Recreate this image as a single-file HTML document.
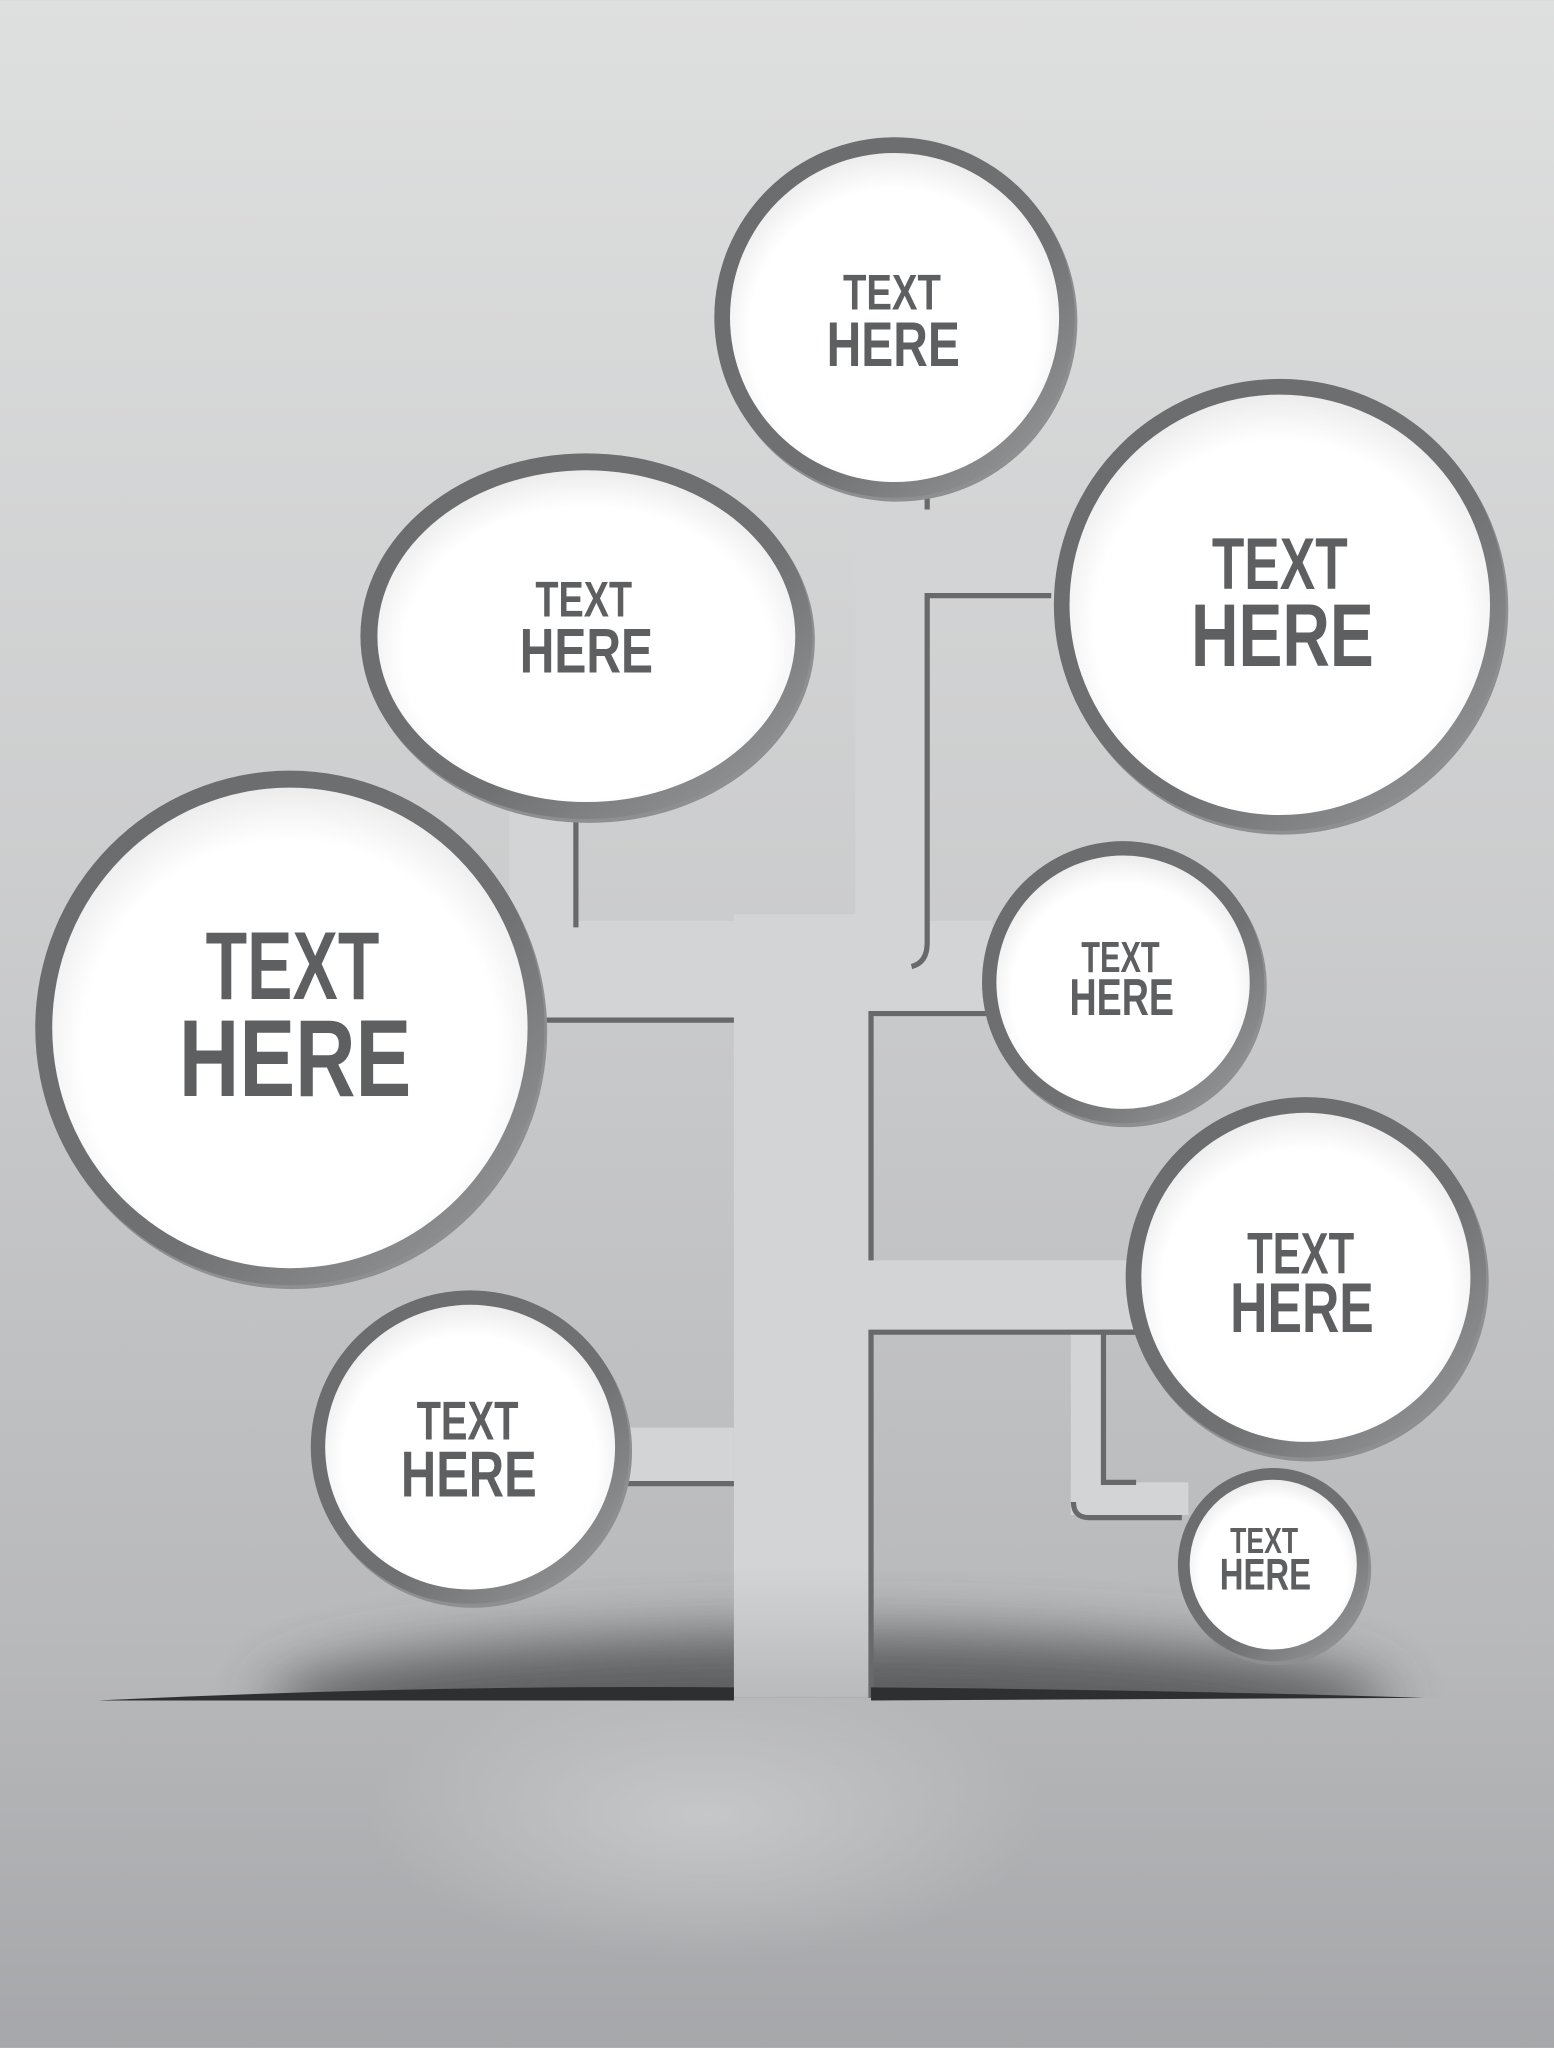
<!DOCTYPE html>
<html><head><meta charset="utf-8"><style>
html,body{margin:0;padding:0;width:1554px;height:2048px;overflow:hidden;background:#c8c9cb}
svg{display:block}
text{font-family:"Liberation Sans",sans-serif;font-weight:bold;fill:#5e5f61;text-anchor:middle}
</style></head><body>
<svg width="1554" height="2048" viewBox="0 0 1190 1568" xmlns="http://www.w3.org/2000/svg">
<defs>
<linearGradient id="bg" x1="0" y1="0" x2="0" y2="1">
<stop offset="0" stop-color="#dedfdf"/><stop offset="0.45" stop-color="#cbcccd"/><stop offset="0.8" stop-color="#b8b9bb"/><stop offset="1" stop-color="#a6a7aa"/>
</linearGradient>
<radialGradient id="glow" cx="0.5" cy="0.5" r="0.5">
<stop offset="0" stop-color="#c6c7c9"/><stop offset="1" stop-color="#c6c7c9" stop-opacity="0"/>
</radialGradient>
<linearGradient id="trunk" x1="0" y1="0" x2="0" y2="1">
<stop offset="0" stop-color="#d3d4d6"/><stop offset="1" stop-color="#b9babc"/>
</linearGradient>
<filter id="blur" x="-20%" y="-50%" width="140%" height="200%"><feGaussianBlur stdDeviation="22"/></filter>
<linearGradient id="ring" x1="0" y1="0" x2="1" y2="1">
<stop offset="0" stop-color="#6a6b6d"/><stop offset="0.6" stop-color="#707173"/><stop offset="1" stop-color="#9c9d9f"/>
</linearGradient>
<radialGradient id="face" cx="0.5" cy="0.55" r="0.55">
<stop offset="0.8" stop-color="#ffffff"/><stop offset="1" stop-color="#ececec"/>
</radialGradient>
<clipPath id="above"><rect x="0" y="0" width="1190" height="1300"/></clipPath>
</defs>
<rect width="1190" height="1568" fill="url(#bg)"/>
<ellipse cx="540" cy="1390" rx="260" ry="110" fill="url(#glow)"/>
<g clip-path="url(#above)">
<ellipse cx="635" cy="1305" rx="430" ry="55" fill="#4e4f51" opacity="0.85" filter="url(#blur)"/>
</g>
<g fill="#d3d4d6">
<rect x="562" y="700" width="105" height="500"/>
<rect x="655" y="375" width="55" height="365"/>
<rect x="710" y="400" width="100" height="55"/>
<rect x="390" y="615" width="50" height="100"/>
<rect x="390" y="705" width="370" height="35"/>
<rect x="410" y="735" width="152" height="45"/>
<rect x="667" y="735" width="95" height="40"/>
<rect x="667" y="965" width="205" height="55"/>
<rect x="820" y="1015" width="25" height="145"/>
<rect x="820" y="1135" width="90" height="25"/>
<rect x="475" y="1093" width="87" height="42"/>
</g>
<rect x="562" y="1199" width="105" height="101" fill="url(#trunk)"/>
<g stroke="#68696b" stroke-width="4" fill="none">
<path d="M441 625 V710"/>
<path d="M415 781 H562"/>
<path d="M480 1136 H562"/>
<path d="M710 380 V390"/>
<path d="M805 456 H710 V722 Q710 737 698 740"/>
<path d="M755 776 H667 V965"/>
<path d="M870 1020 H667 V1300"/>
<path d="M872 1020 H845 V1135 H870"/>
<path d="M822 1150 Q822 1162 834 1162 H905"/>
</g>
<path d="M75 1302 Q330 1290 562 1292 L562 1302 Z" fill="#2e2f30"/>
<path d="M667 1292 Q900 1294 1090 1300 L667 1302 Z" fill="#2e2f30"/>
<g>
<ellipse cx="687" cy="246" rx="138" ry="138" fill="#8e8f91"/><ellipse cx="685" cy="243" rx="138" ry="138" fill="url(#ring)"/><ellipse cx="685" cy="243" rx="126" ry="126" fill="url(#face)"/>
<text x="683" y="237" font-size="38" textLength="75" lengthAdjust="spacingAndGlyphs">TEXT</text><text x="684" y="280" font-size="48" textLength="102" lengthAdjust="spacingAndGlyphs">HERE</text>

<ellipse cx="451" cy="490" rx="173" ry="140" fill="#8e8f91"/><ellipse cx="449" cy="487" rx="173" ry="140" fill="url(#ring)"/><ellipse cx="449" cy="487" rx="160" ry="127" fill="url(#face)"/>
<text x="447" y="472" font-size="38" textLength="74" lengthAdjust="spacingAndGlyphs">TEXT</text><text x="449" y="515" font-size="48" textLength="102" lengthAdjust="spacingAndGlyphs">HERE</text>

<ellipse cx="982" cy="466" rx="173" ry="173" fill="#8e8f91"/><ellipse cx="980" cy="463" rx="173" ry="173" fill="url(#ring)"/><ellipse cx="980" cy="463" rx="161" ry="161" fill="url(#face)"/>
<text x="980" y="451" font-size="56" textLength="104" lengthAdjust="spacingAndGlyphs">TEXT</text><text x="982" y="510" font-size="68" textLength="140" lengthAdjust="spacingAndGlyphs">HERE</text>

<ellipse cx="224" cy="790" rx="195" ry="197" fill="#8e8f91"/><ellipse cx="222" cy="787" rx="195" ry="197" fill="url(#ring)"/><ellipse cx="222" cy="787" rx="182" ry="184" fill="url(#face)"/>
<text x="224" y="765" font-size="74" textLength="133" lengthAdjust="spacingAndGlyphs">TEXT</text><text x="226" y="839" font-size="84" textLength="178" lengthAdjust="spacingAndGlyphs">HERE</text>

<ellipse cx="862" cy="755" rx="108" ry="108" fill="#8e8f91"/><ellipse cx="860" cy="752" rx="108" ry="108" fill="url(#ring)"/><ellipse cx="860" cy="752" rx="97" ry="97" fill="url(#face)"/>
<text x="858" y="744" font-size="33" textLength="60" lengthAdjust="spacingAndGlyphs">TEXT</text><text x="859" y="777" font-size="40" textLength="80" lengthAdjust="spacingAndGlyphs">HERE</text>

<ellipse cx="1002" cy="981" rx="138" ry="138" fill="#8e8f91"/><ellipse cx="1000" cy="978" rx="138" ry="138" fill="url(#ring)"/><ellipse cx="1000" cy="978" rx="126" ry="126" fill="url(#face)"/>
<text x="996" y="975" font-size="45" textLength="82" lengthAdjust="spacingAndGlyphs">TEXT</text><text x="997" y="1020" font-size="54" textLength="110" lengthAdjust="spacingAndGlyphs">HERE</text>

<ellipse cx="362" cy="1111" rx="122" ry="120" fill="#8e8f91"/><ellipse cx="360" cy="1108" rx="122" ry="120" fill="url(#ring)"/><ellipse cx="360" cy="1108" rx="111" ry="109" fill="url(#face)"/>
<text x="358" y="1102" font-size="42" textLength="78" lengthAdjust="spacingAndGlyphs">TEXT</text><text x="359" y="1146" font-size="50" textLength="104" lengthAdjust="spacingAndGlyphs">HERE</text>

<ellipse cx="977" cy="1201" rx="73" ry="74" fill="#8e8f91"/><ellipse cx="975" cy="1198" rx="73" ry="74" fill="url(#ring)"/><ellipse cx="975" cy="1198" rx="64" ry="65" fill="url(#face)"/>
<text x="968" y="1189" font-size="28" textLength="52" lengthAdjust="spacingAndGlyphs">TEXT</text><text x="969" y="1217" font-size="34" textLength="70" lengthAdjust="spacingAndGlyphs">HERE</text>
</g>
</svg>
</body></html>
